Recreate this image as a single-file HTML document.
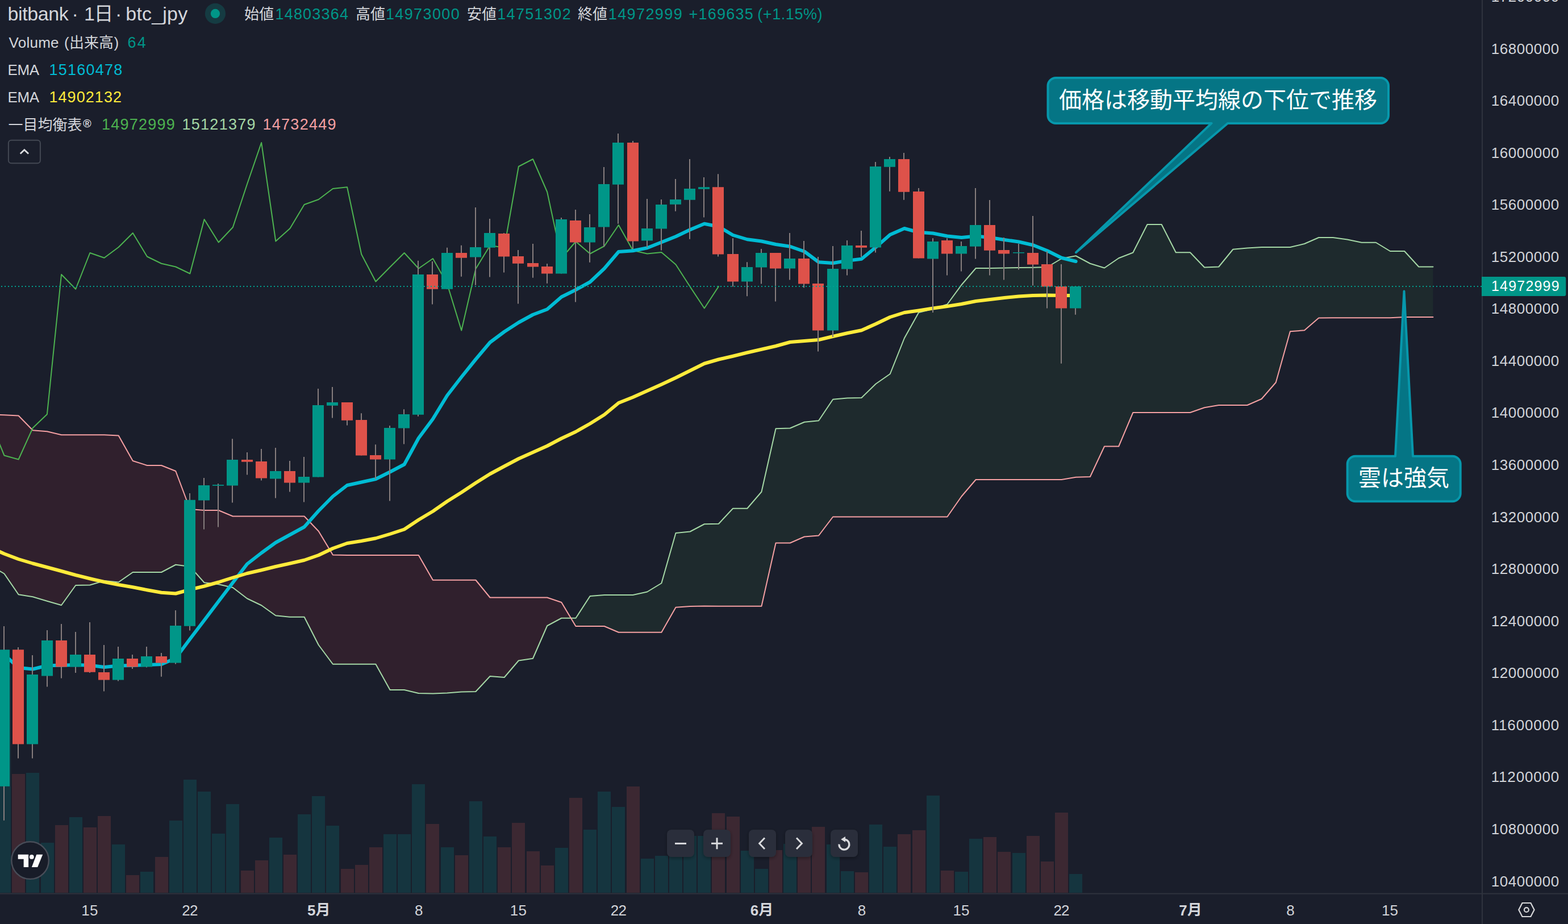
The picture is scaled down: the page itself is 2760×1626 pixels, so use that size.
<!DOCTYPE html>
<html lang="ja"><head><meta charset="utf-8"><title>bitbank btc_jpy 1日</title>
<style>
html,body{margin:0;padding:0;background:#1a1e2b;}
body{width:2760px;height:1626px;overflow:hidden;position:relative;font-family:"Liberation Sans",sans-serif;}
#c{position:absolute;left:0;top:0;width:2760px;height:1626px;overflow:hidden;background:#1a1e2b;}
svg{position:absolute;left:0;top:0;display:block;}
svg text{font-family:"Liberation Sans","Noto Sans CJK JP",sans-serif;}
.t{position:absolute;white-space:pre;line-height:1;font-family:"Liberation Sans",sans-serif;}
</style></head><body><div id="c">
<svg width="2760" height="1626" viewBox="0 0 2760 1626" shape-rendering="auto">
<path d="M-17.7 995L7.45 1009.5L32.6 1046.25L57.75 1050.25L82.9 1057.75L108.05 1065L133.2 1030L158.35 1029.5L183.5 1022L208.65 1024.5L233.8 1007L258.95 1007L284.1 1007L309.25 993.75L334.4 997L359.55 1025.25L384.7 1028.25L409.85 1034L435 1053.25L460.15 1065.25L485.3 1083.25L510.45 1085.75L535.6 1085.75L560.75 1135L585.9 1168.75L611.05 1168.75L636.2 1168.75L661.35 1168.75L686.5 1214L711.65 1214L736.8 1220L761.95 1220.5L787.1 1219.5L812.25 1217.5L837.4 1217L862.55 1190L887.7 1192L912.85 1162.5L938 1158.75L963.15 1101.25L988.3 1087.75L1004.92 1087.75L1004.92 1087.75L988.3 1060L963.15 1051.5L938 1051.5L912.85 1051.5L887.7 1051.5L862.55 1051.5L837.4 1020.75L812.25 1020.75L787.1 1020.75L761.95 1020.75L736.8 977L711.65 977L686.5 977L661.35 977L636.2 977L611.05 977L585.9 976.5L560.75 934.75L535.6 908.5L510.45 908.5L485.3 908.5L460.15 908.5L435 908.5L409.85 908.5L384.7 898L359.55 898L334.4 896L309.25 829L284.1 819L258.95 819L233.8 811L208.65 766.5L183.5 765.25L158.35 765.25L133.2 765.25L108.05 765.25L82.9 759.25L57.75 757.25L32.6 731.5L7.45 730.25L-17.7 729.75Z" fill="#f23645" fill-opacity="0.1"/>
<path d="M1004.92 1087.75L1013.45 1087.75L1038.6 1049L1063.75 1047L1088.9 1047L1114.05 1047L1139.2 1041.5L1164.35 1026.25L1189.5 938L1214.65 935.5L1239.8 922.25L1264.95 921.75L1290.1 894.75L1315.25 894.75L1340.4 865.5L1365.55 754.25L1390.7 753.5L1415.85 742.75L1441 740.25L1466.15 702.75L1491.3 700.5L1516.45 700L1541.6 675.5L1566.75 658L1591.9 595L1617.05 550L1642.2 543.75L1667.35 535.5L1692.5 501.25L1717.65 472L1742.8 472L1767.95 471.5L1793.1 471L1818.25 470.75L1843.4 470L1868.55 455L1893.7 450.25L1918.85 463.75L1944 471.5L1969.15 454.25L1994.3 444.5L2019.45 395L2044.6 395L2069.75 444.25L2094.9 444.25L2120.05 470.5L2145.2 469.5L2170.35 438.75L2195.5 436.5L2220.65 435L2245.8 435L2270.95 435L2296.1 429L2321.25 418L2346.4 418L2371.55 421.5L2396.7 426.75L2421.85 426.75L2447 442L2472.15 442L2497.3 469.5L2522.45 469.5L2522.45 558L2497.3 558L2472.15 558L2447 559.25L2421.85 559.25L2396.7 559.25L2371.55 559.25L2346.4 559.25L2321.25 559.5L2296.1 581.25L2270.95 583.25L2245.8 673L2220.65 702L2195.5 713L2170.35 713L2145.2 713L2120.05 717.25L2094.9 726L2069.75 726L2044.6 726L2019.45 726L1994.3 726L1969.15 785.5L1944 785.5L1918.85 839L1893.7 839.75L1868.55 844L1843.4 844L1818.25 844L1793.1 844L1767.95 844L1742.8 844L1717.65 844L1692.5 873.5L1667.35 909.5L1642.2 909.5L1617.05 909.5L1591.9 909.5L1566.75 909.5L1541.6 909.5L1516.45 909.5L1491.3 909.5L1466.15 909.5L1441 942.5L1415.85 944.5L1390.7 955.5L1365.55 955.5L1340.4 1066.75L1315.25 1066.75L1290.1 1066.75L1264.95 1066.75L1239.8 1066.5L1214.65 1067L1189.5 1068.75L1164.35 1112.75L1139.2 1112.75L1114.05 1112.75L1088.9 1112.75L1063.75 1102L1038.6 1102L1013.45 1102L1004.92 1087.75Z" fill="#43a047" fill-opacity="0.1"/>
<path d="M-4 1177h23V1571h-23ZM46 1360h23V1571h-23ZM72 1483h23V1571h-23ZM122 1438h23V1571h-23ZM197 1486h23V1571h-23ZM247 1534h23V1571h-23ZM298 1444h23V1571h-23ZM323 1372h23V1571h-23ZM348 1393h23V1571h-23ZM373 1467h23V1571h-23ZM398 1415h23V1571h-23ZM474 1474h23V1571h-23ZM524 1433h23V1571h-23ZM549 1401h23V1571h-23ZM574 1453h23V1571h-23ZM675 1468h23V1571h-23ZM700 1468h23V1571h-23ZM725 1380h23V1571h-23ZM776 1491h23V1571h-23ZM826 1410h23V1571h-23ZM851 1472h23V1571h-23ZM977 1492h23V1571h-23ZM1027 1460h23V1571h-23ZM1052 1393h23V1571h-23ZM1077 1420h23V1571h-23ZM1128 1511h23V1571h-23ZM1153 1506h23V1571h-23ZM1178 1480h23V1571h-23ZM1203 1471h23V1571h-23ZM1228 1471h23V1571h-23ZM1304 1497h23V1571h-23ZM1329 1529h23V1571h-23ZM1379 1485h23V1571h-23ZM1455 1486h23V1571h-23ZM1480 1533h23V1571h-23ZM1530 1451h23V1571h-23ZM1555 1490h23V1571h-23ZM1631 1400h23V1571h-23ZM1681 1534h23V1571h-23ZM1706 1476h23V1571h-23ZM1782 1501h23V1571h-23ZM1882 1538h23V1571h-23Z" fill="#15353f"/>
<path d="M21 1362h23V1571h-23ZM97 1452h23V1571h-23ZM147 1456h23V1571h-23ZM172 1436h23V1571h-23ZM222 1540h23V1571h-23ZM273 1508h23V1571h-23ZM424 1532h23V1571h-23ZM449 1514h23V1571h-23ZM499 1504h23V1571h-23ZM600 1529h23V1571h-23ZM625 1522h23V1571h-23ZM650 1491h23V1571h-23ZM750 1450h23V1571h-23ZM801 1505h23V1571h-23ZM876 1491h23V1571h-23ZM901 1448h23V1571h-23ZM927 1498h23V1571h-23ZM952 1523h23V1571h-23ZM1002 1404h23V1571h-23ZM1103 1384h23V1571h-23ZM1253 1431h23V1571h-23ZM1279 1437h23V1571h-23ZM1354 1496h23V1571h-23ZM1404 1470h23V1571h-23ZM1429 1455h23V1571h-23ZM1505 1535h23V1571h-23ZM1580 1468h23V1571h-23ZM1606 1461h23V1571h-23ZM1656 1532h23V1571h-23ZM1731 1473h23V1571h-23ZM1756 1499h23V1571h-23ZM1807 1471h23V1571h-23ZM1832 1516h23V1571h-23ZM1857 1430h23V1571h-23Z" fill="#3c2832"/>
<polyline points="-17.7,995 7.45,1009.5 32.6,1046.25 57.75,1050.25 82.9,1057.75 108.05,1065 133.2,1030 158.35,1029.5 183.5,1022 208.65,1024.5 233.8,1007 258.95,1007 284.1,1007 309.25,993.75 334.4,997 359.55,1025.25 384.7,1028.25 409.85,1034 435,1053.25 460.15,1065.25 485.3,1083.25 510.45,1085.75 535.6,1085.75 560.75,1135 585.9,1168.75 611.05,1168.75 636.2,1168.75 661.35,1168.75 686.5,1214 711.65,1214 736.8,1220 761.95,1220.5 787.1,1219.5 812.25,1217.5 837.4,1217 862.55,1190 887.7,1192 912.85,1162.5 938,1158.75 963.15,1101.25 988.3,1087.75 1013.45,1087.75 1038.6,1049 1063.75,1047 1088.9,1047 1114.05,1047 1139.2,1041.5 1164.35,1026.25 1189.5,938 1214.65,935.5 1239.8,922.25 1264.95,921.75 1290.1,894.75 1315.25,894.75 1340.4,865.5 1365.55,754.25 1390.7,753.5 1415.85,742.75 1441,740.25 1466.15,702.75 1491.3,700.5 1516.45,700 1541.6,675.5 1566.75,658 1591.9,595 1617.05,550 1642.2,543.75 1667.35,535.5 1692.5,501.25 1717.65,472 1742.8,472 1767.95,471.5 1793.1,471 1818.25,470.75 1843.4,470 1868.55,455 1893.7,450.25 1918.85,463.75 1944,471.5 1969.15,454.25 1994.3,444.5 2019.45,395 2044.6,395 2069.75,444.25 2094.9,444.25 2120.05,470.5 2145.2,469.5 2170.35,438.75 2195.5,436.5 2220.65,435 2245.8,435 2270.95,435 2296.1,429 2321.25,418 2346.4,418 2371.55,421.5 2396.7,426.75 2421.85,426.75 2447,442 2472.15,442 2497.3,469.5 2522.45,469.5" fill="none" stroke="#a5d8a6" stroke-width="2" stroke-linejoin="round" stroke-linecap="round" />
<polyline points="-17.7,729.75 7.45,730.25 32.6,731.5 57.75,757.25 82.9,759.25 108.05,765.25 133.2,765.25 158.35,765.25 183.5,765.25 208.65,766.5 233.8,811 258.95,819 284.1,819 309.25,829 334.4,896 359.55,898 384.7,898 409.85,908.5 435,908.5 460.15,908.5 485.3,908.5 510.45,908.5 535.6,908.5 560.75,934.75 585.9,976.5 611.05,977 636.2,977 661.35,977 686.5,977 711.65,977 736.8,977 761.95,1020.75 787.1,1020.75 812.25,1020.75 837.4,1020.75 862.55,1051.5 887.7,1051.5 912.85,1051.5 938,1051.5 963.15,1051.5 988.3,1060 1013.45,1102 1038.6,1102 1063.75,1102 1088.9,1112.75 1114.05,1112.75 1139.2,1112.75 1164.35,1112.75 1189.5,1068.75 1214.65,1067 1239.8,1066.5 1264.95,1066.75 1290.1,1066.75 1315.25,1066.75 1340.4,1066.75 1365.55,955.5 1390.7,955.5 1415.85,944.5 1441,942.5 1466.15,909.5 1491.3,909.5 1516.45,909.5 1541.6,909.5 1566.75,909.5 1591.9,909.5 1617.05,909.5 1642.2,909.5 1667.35,909.5 1692.5,873.5 1717.65,844 1742.8,844 1767.95,844 1793.1,844 1818.25,844 1843.4,844 1868.55,844 1893.7,839.75 1918.85,839 1944,785.5 1969.15,785.5 1994.3,726 2019.45,726 2044.6,726 2069.75,726 2094.9,726 2120.05,717.25 2145.2,713 2170.35,713 2195.5,713 2220.65,702 2245.8,673 2270.95,583.25 2296.1,581.25 2321.25,559.5 2346.4,559.25 2371.55,559.25 2396.7,559.25 2421.85,559.25 2447,559.25 2472.15,558 2497.3,558 2522.45,558" fill="none" stroke="#f5a0a3" stroke-width="2" stroke-linejoin="round" stroke-linecap="round" />
<polyline points="-17.7,739.75 7.45,801.5 32.6,808.5 57.75,753 82.9,729 108.05,483 133.2,508.75 158.35,445 183.5,453.75 208.65,435 233.8,410 258.95,451.5 284.1,463.75 309.25,469.5 334.4,481.5 359.55,386 384.7,426.5 409.85,400 435,324 460.15,251 485.3,424.5 510.45,402 535.6,360 560.75,351 585.9,332 611.05,329.25 636.2,447.5 661.35,495.5 686.5,470 711.65,445 736.8,472.5 761.95,455 787.1,499.5 812.25,581.5 837.4,473 862.55,432 887.7,435.75 912.85,293 938,280 963.15,337.75 988.3,454.5 1013.45,425 1038.6,446.5 1063.75,433 1088.9,396 1114.05,440.75 1139.2,446.5 1164.35,444 1189.5,465.5 1214.65,504.5 1239.8,542.5 1264.95,504" fill="none" stroke="#4db350" stroke-width="2" stroke-linejoin="round" stroke-linecap="round" />
<polyline points="-17.7,1150 7.45,1152 32.6,1175 57.75,1177.5 82.9,1171.25 108.05,1170.75 133.2,1170 158.35,1170.75 183.5,1174 208.65,1171.5 233.8,1171 258.95,1170 284.1,1169 309.25,1158.25 334.4,1124.5 359.55,1091.5 384.7,1058.25 409.85,1025.25 435,992.5 460.15,973 485.3,954.75 510.45,941 535.6,927.25 560.75,899 585.9,873.5 611.05,854 636.2,848.5 661.35,843 686.5,830.5 711.65,817.25 736.8,771 761.95,737.25 787.1,696 812.25,663.5 837.4,632.25 862.55,602.5 887.7,583.75 912.85,567.5 938,553.75 963.15,544.25 988.3,522.5 1013.45,510 1038.6,496.25 1063.75,472.5 1088.9,443 1114.05,441.25 1139.2,436.25 1164.35,426.25 1189.5,416.25 1214.65,404.25 1239.8,393.75 1264.95,398.75 1290.1,413.75 1315.25,421.25 1340.4,424.5 1365.55,430 1390.7,433.75 1415.85,442.5 1441,461.25 1466.15,463 1491.3,458.75 1516.45,455.75 1541.6,435 1566.75,413 1591.9,402 1617.05,408.75 1642.2,410.5 1667.35,415.5 1692.5,418 1717.65,415.5 1742.8,418 1767.95,422 1793.1,425.5 1818.25,431.25 1843.4,441.25 1868.55,453.75 1893.7,460" fill="none" stroke="#00bcd4" stroke-width="6" stroke-linejoin="round" stroke-linecap="round" />
<polyline points="-17.7,963 7.45,974.5 32.6,984 57.75,991.5 82.9,998.25 108.05,1005 133.2,1012 158.35,1018.25 183.5,1024 208.65,1029 233.8,1033.25 258.95,1038.25 284.1,1042.75 309.25,1044.5 334.4,1037.5 359.55,1031.5 384.7,1024.5 409.85,1016.5 435,1009 460.15,1003.25 485.3,997 510.45,991.5 535.6,985.75 560.75,977 585.9,965 611.05,956 636.2,952 661.35,947.25 686.5,939.75 711.65,931.5 736.8,914.75 761.95,899.75 787.1,882.25 812.25,866.5 837.4,849.75 862.55,834 887.7,820.5 912.85,807.25 938,796 963.15,784.75 988.3,771.5 1013.45,759.75 1038.6,745.5 1063.75,729.75 1088.9,709 1114.05,699 1139.2,687.75 1164.35,676.5 1189.5,664.75 1214.65,652.25 1239.8,639.75 1264.95,632.5 1290.1,626.75 1315.25,620.5 1340.4,614.75 1365.55,609 1390.7,602 1415.85,600 1441,598 1466.15,592 1491.3,586.25 1516.45,581.25 1541.6,570 1566.75,558 1591.9,550 1617.05,546.5 1642.2,542.5 1667.35,539 1692.5,535 1717.65,530 1742.8,527 1767.95,524 1793.1,521.5 1818.25,520 1843.4,519.5 1868.55,520 1893.7,520" fill="none" stroke="#ffeb3b" stroke-width="6" stroke-linejoin="round" stroke-linecap="round" />
<path d="M6 1102h2V1443.75h-2ZM31 1139h2V1334.5h-2ZM56 1153h2V1334.5h-2ZM82 1109h2V1208.5h-2ZM107 1098h2V1193.5h-2ZM132 1112h2V1184h-2ZM157 1095h2V1184h-2ZM182 1135h2V1216.5h-2ZM207 1138h2V1198.5h-2ZM232 1152h2V1177h-2ZM257 1138h2V1174.5h-2ZM283 1149h2V1190.75h-2ZM308 1074h2V1168.5h-2ZM333 868h2V1109.5h-2ZM358 841h2V931.5h-2ZM383 851h2V927.5h-2ZM408 772.25h2V884.5h-2ZM434 796h2V835.5h-2ZM459 790h2V845.5h-2ZM484 788h2V876.5h-2ZM509 811h2V865.5h-2ZM534 804h2V883.5h-2ZM559 684h2V839.5h-2ZM584 681h2V735.5h-2ZM610 708h2V748.5h-2ZM635 727.25h2V801.5h-2ZM660 782.25h2V843h-2ZM685 749h2V881.5h-2ZM710 720.25h2V781.5h-2ZM735 458.75h2V732.75h-2ZM760 460h2V535.5h-2ZM786 435.75h2V508.75h-2ZM811 431.75h2V486.75h-2ZM836 365h2V501.75h-2ZM861 385h2V487.5h-2ZM886 410h2V479.5h-2ZM911 440h2V534.5h-2ZM937 429h2V488.75h-2ZM962 464h2V498.75h-2ZM987 383h2V481.5h-2ZM1012 369h2V531.5h-2ZM1037 377h2V461.75h-2ZM1062 294h2V434.5h-2ZM1087 235h2V393.75h-2ZM1113 248h2V438h-2ZM1138 350h2V435.5h-2ZM1163 351h2V440.5h-2ZM1188 315h2V371.75h-2ZM1213 280h2V420.75h-2ZM1238 312h2V382.5h-2ZM1263 306.25h2V451.5h-2ZM1289 419.25h2V504.5h-2ZM1314 461.25h2V521.25h-2ZM1339 438h2V499.5h-2ZM1364 445h2V530.5h-2ZM1389 410h2V492.5h-2ZM1414 424h2V506.25h-2ZM1439 452h2V618.5h-2ZM1465 433h2V593h-2ZM1490 423h2V484.5h-2ZM1515 406h2V452h-2ZM1540 285h2V444.5h-2ZM1565 276h2V336.75h-2ZM1590 269h2V351.75h-2ZM1616 331h2V454.5h-2ZM1641 419.25h2V550h-2ZM1666 419.25h2V484.5h-2ZM1691 425h2V477.5h-2ZM1716 331h2V455.5h-2ZM1741 352h2V484.5h-2ZM1766 418h2V492.5h-2ZM1792 429h2V474.5h-2ZM1817 380h2V502.5h-2ZM1842 442h2V542.5h-2ZM1867 465h2V639.75h-2ZM1892 504h2V553.75h-2Z" fill="#867d7d"/>
<path d="M-3 1143.25h20v240.5h-20ZM47 1187h20v122.5h-20ZM73 1127h20v62.5h-20ZM123 1152h20v21.5h-20ZM198 1159h20v37.5h-20ZM248 1155h20v18.5h-20ZM299 1101h20v65.5h-20ZM324 879.75h20v222h-20ZM349 854h20v26.5h-20ZM374 853h20v1.75h-20ZM399 809h20v45.5h-20ZM475 829h20v13.5h-20ZM525 839h20v10.5h-20ZM550 713h20v126.5h-20ZM575 708h20v5.75h-20ZM676 753h20v55.5h-20ZM701 729h20v24.5h-20ZM726 483h20v246.75h-20ZM777 445h20v63.75h-20ZM827 435h20v17.5h-20ZM852 410h20v25.75h-20ZM978 386h20v95.5h-20ZM1028 400h20v26.5h-20ZM1053 324h20v75.5h-20ZM1078 251h20v73.75h-20ZM1129 402h20v21.5h-20ZM1154 360h20v42.5h-20ZM1179 351h20v8.75h-20ZM1204 332h20v19.75h-20ZM1229 329.25h20v3.5h-20ZM1305 470h20v25.5h-20ZM1330 445h20v25.5h-20ZM1380 455h20v17.5h-20ZM1456 473h20v108.5h-20ZM1481 432h20v41.5h-20ZM1531 293h20v142.5h-20ZM1556 280h20v13.75h-20ZM1632 425h20v30.5h-20ZM1682 433h20v13.5h-20ZM1707 396h20v37.75h-20ZM1783 444h20v1.5h-20ZM1883 504h20v38.5h-20Z" fill="#009688"/>
<path d="M22 1143.25h20v166.25h-20ZM98 1127h20v46.5h-20ZM148 1152h20v30.75h-20ZM173 1183h20v13.5h-20ZM223 1159h20v14.5h-20ZM274 1155h20v11.5h-20ZM425 809h20v3.75h-20ZM450 812h20v29.5h-20ZM500 829h20v20.5h-20ZM601 708h20v31.75h-20ZM626 739h20v62.5h-20ZM651 801h20v7.5h-20ZM751 483h20v25.75h-20ZM802 445h20v8.75h-20ZM877 411h20v40.5h-20ZM902 451h20v12.75h-20ZM928 463h20v6.5h-20ZM953 469h20v12.5h-20ZM1003 388h20v38.5h-20ZM1104 251h20v173.5h-20ZM1254 329.25h20v118.25h-20ZM1280 447h20v48.5h-20ZM1355 445h20v27.5h-20ZM1405 455h20v44.5h-20ZM1430 499h20v82.5h-20ZM1506 432h20v3.75h-20ZM1581 280h20v57.75h-20ZM1607 337h20v117.5h-20ZM1657 423h20v23.5h-20ZM1732 396h20v44.75h-20ZM1757 440h20v6.5h-20ZM1808 445h20v20.5h-20ZM1833 465h20v39.5h-20ZM1858 504h20v38.5h-20Z" fill="#de524a"/>
<line x1="2" y1="504" x2="2608" y2="504" stroke="#00a08f" stroke-width="2" stroke-dasharray="2 4"/>
<path d="M1858.5 137.1H2430A14 14 0 0 1 2444 151.1V202.9A14 14 0 0 1 2430 216.9H2161L1894 444.2L2132.5 216.9H1858.5A14 14 0 0 1 1844.5 202.9V151.1A14 14 0 0 1 1858.5 137.1Z" fill="#057585" stroke="#0798ac" stroke-width="4" stroke-linejoin="round"/>
<path d="M2385.7 802.8H2456L2471.5 512.5L2487 802.8H2556.7A14 14 0 0 1 2570.7 816.8V868.3A14 14 0 0 1 2556.7 882.3H2385.7A14 14 0 0 1 2371.7 868.3V816.8A14 14 0 0 1 2385.7 802.8Z" fill="#057585" stroke="#0798ac" stroke-width="4" stroke-linejoin="round"/>
<text x="1864" y="190" font-size="40" fill="#fff" textLength="560">価格は移動平均線の下位で推移</text>
<text x="2391" y="855" font-size="40" fill="#fff" textLength="160">雲は強気</text>
<rect x="2608" y="0" width="152" height="1626" fill="#1a1e2b"/>
<rect x="0" y="1573" width="2760" height="53" fill="#1a1e2b"/>
<rect x="2608" y="0" width="2" height="1626" fill="#2f333e"/>
<rect x="0" y="1571.6" width="2760" height="2" fill="#2f333e"/>
<path d="M2608 487H2753.3a3 3 0 0 1 3 3V518a3 3 0 0 1 -3 3H2608Z" fill="#009688"/>
<text x="165.5" y="36" font-size="34" fill="#d4d6db">日</text>
<text x="430" y="34" font-size="26" fill="#d4d6db">始値</text>
<text x="626" y="34" font-size="26" fill="#d4d6db">高値</text>
<text x="822" y="34" font-size="26" fill="#d4d6db">安値</text>
<text x="1017" y="34" font-size="26" fill="#d4d6db">終値</text>
<text x="122" y="84" font-size="26" fill="#d4d6db">出来高</text>
<text x="14.5" y="229" font-size="26" fill="#d4d6db">一目均衡表</text>
<circle cx="378.95" cy="23.9" r="18.1" fill="#153b42"/>
<circle cx="378.95" cy="23.9" r="8.1" fill="#009688"/>
<rect x="14.9" y="246.8" width="56" height="40.4" rx="5" fill="none" stroke="#434853" stroke-width="2"/>
<path d="M35.7 270.4L42.9 263.7L50.1 270.4" fill="none" stroke="#dcdde0" stroke-width="2.8"/>
<defs><filter id="bs" x="-30%" y="-30%" width="160%" height="180%"><feDropShadow dx="0" dy="2" stdDeviation="3" flood-color="#000" flood-opacity="0.35"/></filter></defs>
<g filter="url(#bs)"><rect x="1174" y="1460" width="48" height="48" rx="8" fill="#2a2f3a"/><rect x="1238" y="1460" width="48" height="48" rx="8" fill="#2a2f3a"/><rect x="1318" y="1460" width="48" height="48" rx="8" fill="#2a2f3a"/><rect x="1382" y="1460" width="48" height="48" rx="8" fill="#2a2f3a"/><rect x="1462" y="1460" width="48" height="48" rx="8" fill="#2a2f3a"/></g>
<path d="M1188 1484.4h20" stroke="#dadbde" stroke-width="3" fill="none"/>
<path d="M1252 1484.2h20M1262 1474.2v20" stroke="#dadbde" stroke-width="3" fill="none"/>
<path d="M1346 1474.5L1336.7 1484.3L1346 1494" stroke="#dadbde" stroke-width="3" fill="none"/>
<path d="M1402 1474.5L1411.4 1484.3L1402 1494" stroke="#dadbde" stroke-width="3" fill="none"/>
<path d="M1487.46 1477.24A9 9 0 1 1 1476.91 1485.63" stroke="#dadbde" stroke-width="3.4" fill="none"/>
<path d="M1488 1472V1481.9L1480.1 1477Z" fill="#dadbde"/>
<circle cx="53.05" cy="1514.1" r="32.8" fill="#181c28" stroke="#484d58" stroke-width="2.4"/>
<path d="M31.7 1503.8H50.1V1526.1H41.65V1511.8H31.7Z" fill="#fdfdfd"/>
<circle cx="55.8" cy="1507.9" r="3.9" fill="#fdfdfd"/>
<path d="M64.3 1503.8H75.2L66.1 1526.1H55.8Z" fill="#fdfdfd"/>
<path d="M2673.3 1601L2679.5 1589H2694.4L2700.6 1601L2694.4 1613H2679.5Z" fill="none" stroke="#d6d7d9" stroke-width="2.2" stroke-linejoin="miter"/>
<circle cx="2686.9" cy="1601" r="3.95" fill="none" stroke="#d6d7d9" stroke-width="2.2"/>
<text x="555.5" y="1610" font-size="26" font-weight="bold" fill="#d4d6db">月</text>
<text x="1335.2" y="1610" font-size="26" font-weight="bold" fill="#d4d6db">月</text>
<text x="2089.7" y="1610" font-size="26" font-weight="bold" fill="#d4d6db">月</text>
</svg>
<div class="t" style="left:13.5px;top:7.3px;font-size:34px;color:#d4d6db;letter-spacing:-0.4px;">bitbank</div>
<div class="t" style="left:126.5px;top:7.3px;font-size:34px;color:#d4d6db;">·</div>
<div class="t" style="left:147.9px;top:7.3px;font-size:34px;color:#d4d6db;">1</div>
<div class="t" style="left:203px;top:7.3px;font-size:34px;color:#d4d6db;">·</div>
<div class="t" style="left:221.3px;top:7.3px;font-size:34px;color:#d4d6db;letter-spacing:0.2px;">btc_jpy</div>
<div class="t" style="left:484.5px;top:12px;font-size:27px;color:#009688;letter-spacing:1.19px;">14803364</div>
<div class="t" style="left:678.9px;top:12px;font-size:27px;color:#009688;letter-spacing:1.39px;">14973000</div>
<div class="t" style="left:875.2px;top:12px;font-size:27px;color:#009688;letter-spacing:1.34px;">14751302</div>
<div class="t" style="left:1070.8px;top:12px;font-size:27px;color:#009688;letter-spacing:1.39px;">14972999</div>
<div class="t" style="left:1212.5px;top:12px;font-size:27px;color:#009688;letter-spacing:1.25px;">+169635</div>
<div class="t" style="left:1333.3px;top:12px;font-size:27px;color:#009688;letter-spacing:0.57px;">(+1.15%)</div>
<div class="t" style="left:15.5px;top:62.2px;font-size:26px;color:#d4d6db;letter-spacing:0.26px;">Volume</div>
<div class="t" style="left:113px;top:62.2px;font-size:26px;color:#d4d6db;">(</div>
<div class="t" style="left:200.4px;top:62.2px;font-size:26px;color:#d4d6db;">)</div>
<div class="t" style="left:224.6px;top:62.2px;font-size:27px;color:#009688;letter-spacing:2.1px;">64</div>
<div class="t" style="left:13.5px;top:110.4px;font-size:26px;color:#d4d6db;letter-spacing:-0.35px;">EMA</div>
<div class="t" style="left:86.4px;top:110.4px;font-size:27px;color:#00bcd4;letter-spacing:1.26px;">15160478</div>
<div class="t" style="left:13.5px;top:158.2px;font-size:26px;color:#d4d6db;letter-spacing:-0.35px;">EMA</div>
<div class="t" style="left:86.4px;top:158.2px;font-size:27px;color:#ffeb3b;letter-spacing:1.07px;">14902132</div>
<div class="t" style="left:146.1px;top:207.4px;font-size:20px;color:#d4d6db;font-weight:bold;">®</div>
<div class="t" style="left:179.1px;top:206.4px;font-size:27px;color:#4db350;letter-spacing:1.21px;">14972999</div>
<div class="t" style="left:320.4px;top:206.4px;font-size:27px;color:#a5d8a6;letter-spacing:1.3px;">15121379</div>
<div class="t" style="left:462.4px;top:206.4px;font-size:27px;color:#f5a0a3;letter-spacing:1.3px;">14732449</div>
<div class="t" style="left:2624.7px;top:-19.01px;font-size:26px;color:#d2d4d9;letter-spacing:0.54px;">17200000</div>
<div class="t" style="left:2624.7px;top:72.55px;font-size:26px;color:#d2d4d9;letter-spacing:0.54px;">16800000</div>
<div class="t" style="left:2624.7px;top:164.11px;font-size:26px;color:#d2d4d9;letter-spacing:0.54px;">16400000</div>
<div class="t" style="left:2624.7px;top:255.67px;font-size:26px;color:#d2d4d9;letter-spacing:0.54px;">16000000</div>
<div class="t" style="left:2624.7px;top:347.23px;font-size:26px;color:#d2d4d9;letter-spacing:0.54px;">15600000</div>
<div class="t" style="left:2624.7px;top:438.79px;font-size:26px;color:#d2d4d9;letter-spacing:0.54px;">15200000</div>
<div class="t" style="left:2624.7px;top:530.35px;font-size:26px;color:#d2d4d9;letter-spacing:0.54px;">14800000</div>
<div class="t" style="left:2624.7px;top:621.91px;font-size:26px;color:#d2d4d9;letter-spacing:0.54px;">14400000</div>
<div class="t" style="left:2624.7px;top:713.47px;font-size:26px;color:#d2d4d9;letter-spacing:0.54px;">14000000</div>
<div class="t" style="left:2624.7px;top:805.03px;font-size:26px;color:#d2d4d9;letter-spacing:0.54px;">13600000</div>
<div class="t" style="left:2624.7px;top:896.59px;font-size:26px;color:#d2d4d9;letter-spacing:0.54px;">13200000</div>
<div class="t" style="left:2624.7px;top:988.15px;font-size:26px;color:#d2d4d9;letter-spacing:0.54px;">12800000</div>
<div class="t" style="left:2624.7px;top:1079.71px;font-size:26px;color:#d2d4d9;letter-spacing:0.54px;">12400000</div>
<div class="t" style="left:2624.7px;top:1171.27px;font-size:26px;color:#d2d4d9;letter-spacing:0.54px;">12000000</div>
<div class="t" style="left:2624.7px;top:1262.83px;font-size:26px;color:#d2d4d9;letter-spacing:0.83px;">11600000</div>
<div class="t" style="left:2624.7px;top:1354.39px;font-size:26px;color:#d2d4d9;letter-spacing:0.83px;">11200000</div>
<div class="t" style="left:2624.7px;top:1445.95px;font-size:26px;color:#d2d4d9;letter-spacing:0.54px;">10800000</div>
<div class="t" style="left:2624.7px;top:1537.51px;font-size:26px;color:#d2d4d9;letter-spacing:0.54px;">10400000</div>
<div class="t" style="left:2625px;top:491.4px;font-size:25px;color:#fff;letter-spacing:1.19px;">14972999</div>
<div class="t" style="left:143.25px;top:1588.7px;font-size:26px;color:#d2d4d9;letter-spacing:0.2px;">15</div>
<div class="t" style="left:320.3px;top:1588.7px;font-size:26px;color:#d2d4d9;letter-spacing:-0.8px;">22</div>
<div class="t" style="left:730.05px;top:1588.7px;font-size:26px;color:#d2d4d9;">8</div>
<div class="t" style="left:897.75px;top:1588.7px;font-size:26px;color:#d2d4d9;letter-spacing:0.2px;">15</div>
<div class="t" style="left:1074.8px;top:1588.7px;font-size:26px;color:#d2d4d9;letter-spacing:-0.8px;">22</div>
<div class="t" style="left:1509.7px;top:1588.7px;font-size:26px;color:#d2d4d9;">8</div>
<div class="t" style="left:1677.4px;top:1588.7px;font-size:26px;color:#d2d4d9;letter-spacing:0.2px;">15</div>
<div class="t" style="left:1854.45px;top:1588.7px;font-size:26px;color:#d2d4d9;letter-spacing:-0.8px;">22</div>
<div class="t" style="left:2264.2px;top:1588.7px;font-size:26px;color:#d2d4d9;">8</div>
<div class="t" style="left:2431.9px;top:1588.7px;font-size:26px;color:#d2d4d9;letter-spacing:0.2px;">15</div>
<div class="t" style="left:541.05px;top:1588.7px;font-size:26px;color:#d4d6db;font-weight:bold;">5</div>
<div class="t" style="left:1320.7px;top:1588.7px;font-size:26px;color:#d4d6db;font-weight:bold;">6</div>
<div class="t" style="left:2075.2px;top:1588.7px;font-size:26px;color:#d4d6db;font-weight:bold;">7</div>
</div></body></html>
